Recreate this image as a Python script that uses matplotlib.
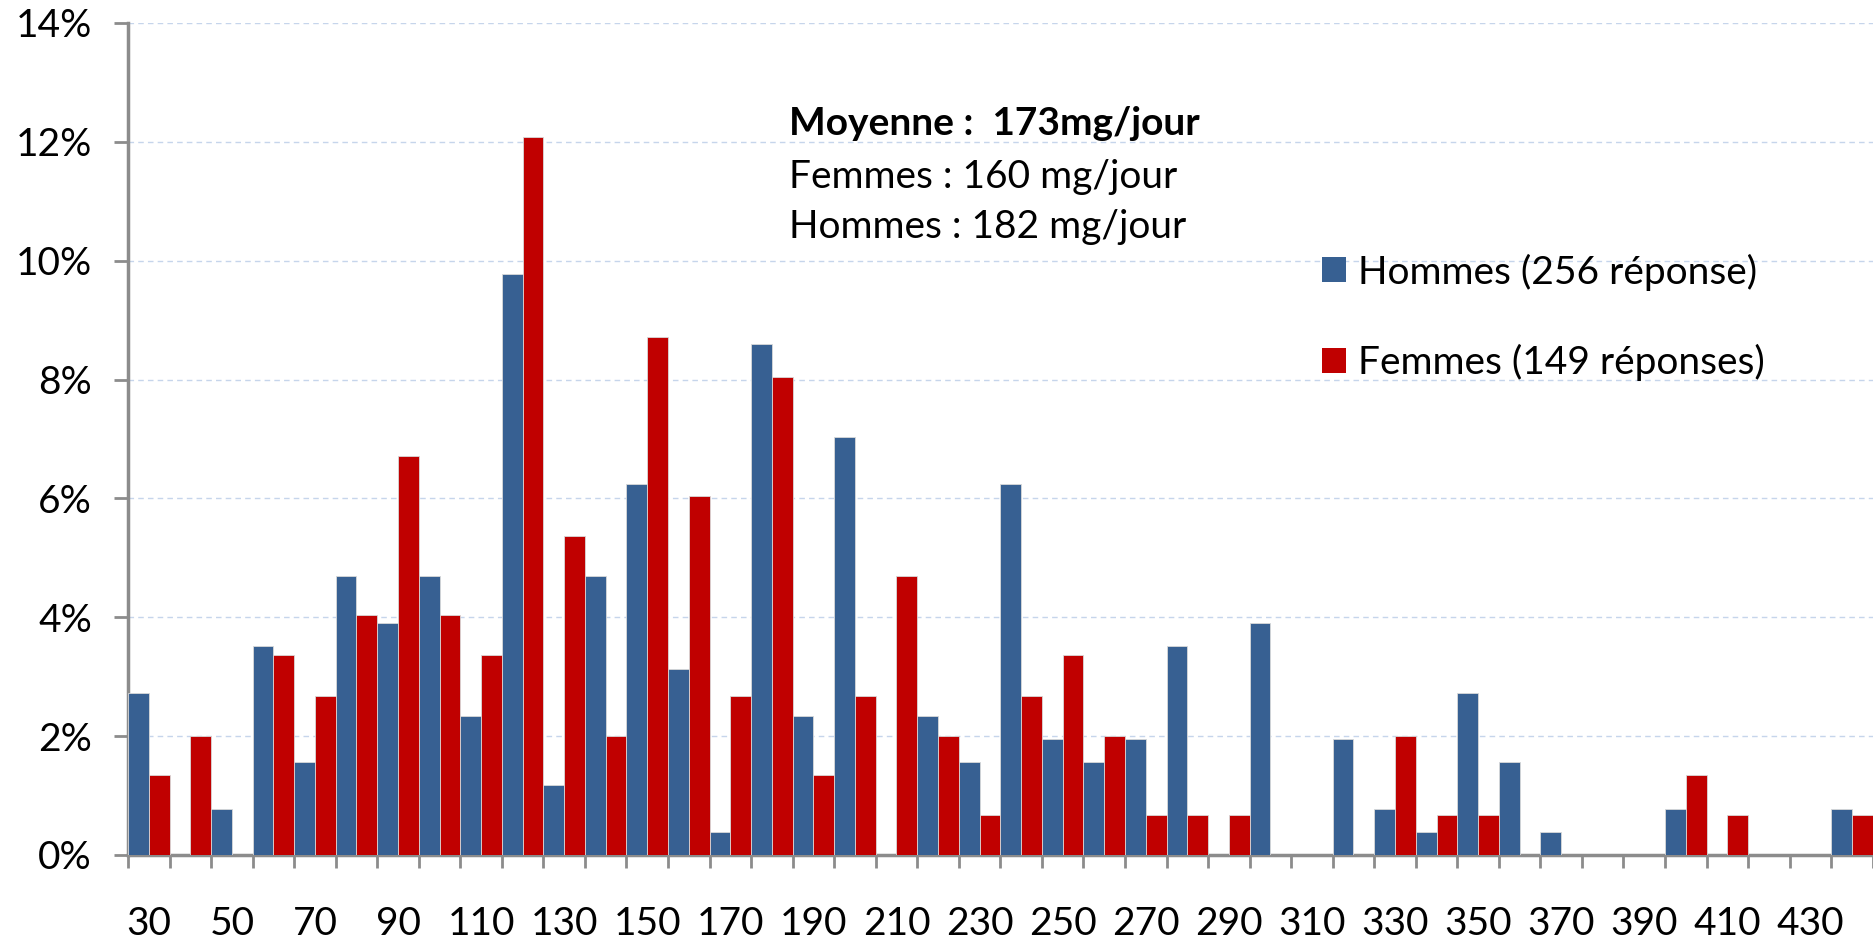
import numpy as np
import matplotlib
matplotlib.use('Agg')
import matplotlib.pyplot as plt
from matplotlib.patches import Patch
from matplotlib.ticker import FixedLocator, PercentFormatter

plt.rcParams['font.family'] = ['Lato', 'DejaVu Sans']

# categories (mg/jour)
categories = list(range(30, 450, 10))

# share of answers per category, in %
hommes = [2.73, 0.00, 0.78, 3.52, 1.56, 4.69, 3.91, 4.69, 2.34, 9.77,
          1.17, 4.69, 6.25, 3.13, 0.39, 8.59, 2.34, 7.03, 0.00, 2.34,
          1.56, 6.25, 1.95, 1.56, 1.95, 3.52, 0.00, 3.91, 0.00, 1.95,
          0.78, 0.39, 2.73, 1.56, 0.39, 0.00, 0.00, 0.78, 0.00, 0.00,
          0.00, 0.78]
femmes = [1.34, 2.01, 0.00, 3.36, 2.68, 4.03, 6.71, 4.03, 3.36, 12.08,
          5.37, 2.01, 8.72, 6.04, 2.68, 8.05, 1.34, 2.68, 4.70, 2.01,
          0.67, 2.68, 3.36, 2.01, 0.67, 0.67, 0.67, 0.00, 0.00, 0.00,
          2.01, 0.67, 0.67, 0.00, 0.00, 0.00, 0.00, 1.34, 0.67, 0.00,
          0.00, 0.67]

label_h = 'Hommes (256 réponse)'
label_f = 'Femmes (149 réponses)'
note_lines = ['Moyenne :  173mg/jour', 'Femmes : 160 mg/jour', 'Hommes : 182 mg/jour']

blue = '#376092'
red = '#c00000'
grey = '#8c8c8c'
fs = 28

fig = plt.figure(figsize=(18.74, 9.42), dpi=100)
ax = fig.add_axes([0.0683, 0.0924, 0.931, 0.8832])

x = np.arange(len(categories))
w = 0.5
ax.bar(x - w / 2, hommes, width=w, color=blue, edgecolor='#d9d9d9', linewidth=0.6, zorder=3)
ax.bar(x + w / 2, femmes, width=w, color=red, edgecolor='#d9d9d9', linewidth=0.6, zorder=3)

ax.set_xlim(-0.5, len(categories) - 0.5)
ax.set_ylim(0, 14)

# y axis
ax.set_yticks(np.arange(0, 15, 2))
ax.yaxis.set_major_formatter(PercentFormatter(decimals=0))
ax.yaxis.grid(True, linestyle=(0, (4, 3)), color='#c6d5eb', linewidth=1.0, zorder=0)
ax.tick_params(axis='y', labelsize=fs, length=10, width=2, color=grey, pad=16)

# x axis: ticks at boundaries, labels every other category
ax.xaxis.set_major_locator(FixedLocator(np.arange(-0.5, len(categories), 1)))
ax.set_xticklabels([])
ax.xaxis.set_minor_locator(FixedLocator(x[::2]))
ax.set_xticklabels([str(c) for c in categories[::2]], minor=True)
ax.tick_params(axis='x', which='major', length=9, width=2, color=grey)
ax.tick_params(axis='x', which='minor', length=0, labelsize=fs, pad=37)

for side in ['top', 'right']:
    ax.spines[side].set_visible(False)
for side in ['left', 'bottom']:
    ax.spines[side].set_color(grey)
    ax.spines[side].set_linewidth(2.5)

# annotation
fig.text(0.421, 0.869, note_lines[0], fontsize=fs, fontweight='bold', va='center')
fig.text(0.421, 0.812, note_lines[1], fontsize=fs, va='center')
fig.text(0.421, 0.759, note_lines[2], fontsize=fs, va='center')

handles = [Patch(facecolor=blue), Patch(facecolor=red)]
ax.legend(handles, [label_h, label_f], loc='upper left', bbox_to_anchor=(0.7054, 0.731),
          bbox_transform=fig.transFigure, frameon=False, fontsize=fs,
          borderpad=0, borderaxespad=0,
          handlelength=0.62, handleheight=0.62, handletextpad=0.3, labelspacing=1.38)

fig.savefig('out.png', dpi=100)
